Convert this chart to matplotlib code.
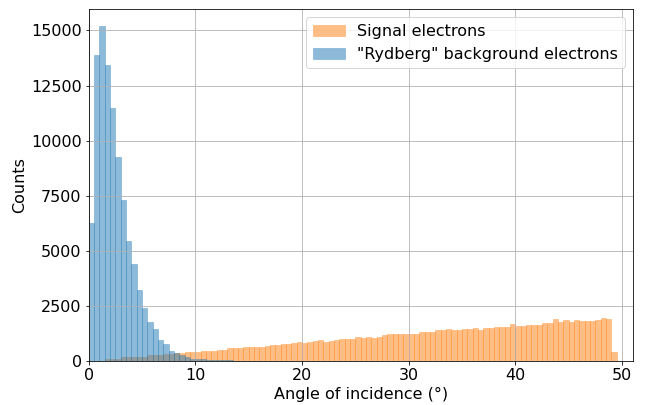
import numpy as np
import matplotlib
matplotlib.use('Agg')
import matplotlib.pyplot as plt
from matplotlib.ticker import MultipleLocator

# bin edges, 0.5 deg wide
bin_edges = np.arange(0, 50.01, 0.5)

# counts per bin
signal_counts = [0, 0, 0, 110, 110, 110, 190, 190, 190, 195, 200,
                 265, 265, 265, 335, 335, 384, 384, 430, 430, 430,
                 474, 474, 474, 520, 520, 610, 610, 610, 655, 655, 655, 655,
                 700, 746, 746, 790, 790, 836, 881, 836, 881, 927, 972,
                 881, 927, 972, 1017, 1017, 1017, 1107, 1062, 1107, 1062, 1107,
                 1197, 1243, 1243, 1243, 1243, 1243, 1243, 1333, 1333, 1333,
                 1424, 1424, 1469, 1424, 1424, 1469, 1469, 1514, 1424, 1514, 1514,
                 1559, 1559, 1559, 1694, 1604, 1604, 1650, 1650, 1650, 1740, 1740,
                 1921, 1785, 1875, 1785, 1875, 1830, 1830, 1830, 1875, 1965, 1921,
                 400, 0]

rydberg_counts = [6270, 13890, 15200, 13440, 11480, 9250, 7300, 5460, 4410, 3230,
                  2400, 1780, 1470, 970, 750, 475, 380, 265, 170, 90,
                  80, 70, 60, 40, 35, 30, 25] + [0] * 73

centers = (bin_edges[:-1] + bin_edges[1:]) / 2

fs = 16
fig = plt.figure(figsize=(646 / 72, 405 / 72), dpi=72)
ax = fig.add_axes([0.1373, 0.1086, 0.8421, 0.8684])

ax.hist(centers, bins=bin_edges, weights=signal_counts, color='C1', alpha=0.5,
        edgecolor='C1', linewidth=0.6, label='Signal electrons')
ax.hist(centers, bins=bin_edges, weights=rydberg_counts, color='C0', alpha=0.5,
        edgecolor='C0', linewidth=0.6, label='"Rydberg" background electrons')

ax.set_xlim(0, 51)
ax.yaxis.set_major_locator(MultipleLocator(2500))
ax.grid(True)
ax.tick_params(labelsize=fs)
ax.set_xlabel('Angle of incidence (°)', fontsize=fs)
ax.set_ylabel('Counts', fontsize=fs)
ax.legend(loc='upper right', fontsize=fs)

plt.savefig('out.png', dpi=72)
